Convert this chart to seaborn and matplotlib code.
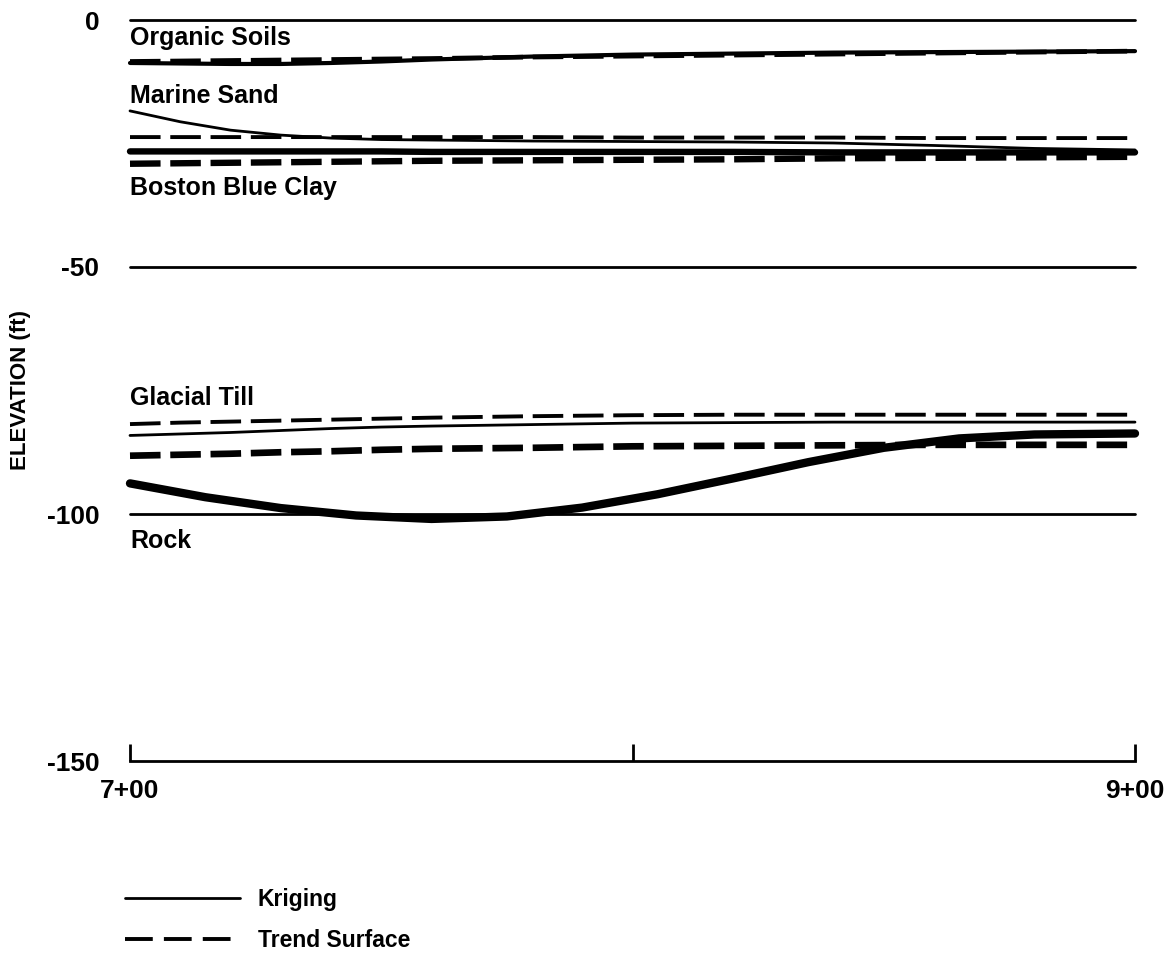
import matplotlib
matplotlib.use("Agg")
import matplotlib.pyplot as plt
from matplotlib.lines import Line2D
import pandas as pd
import seaborn as sns

# Stations along the section (ft), labelled as 7+00 ... 9+00
stations = [700, 710, 720, 730, 740, 750, 760, 780, 800, 820, 840, 860, 880, 900]
rock_stations = [700, 715, 730, 745, 760, 775, 790, 805, 820, 835, 850, 865, 880, 900]

# Boundary elevations (ft) estimated by kriging and by trend surface
organic_krig = [-8.7, -8.8, -8.9, -8.9, -8.7, -8.4, -8.0, -7.4, -7.0, -6.8, -6.6, -6.5, -6.4, -6.3]
organic_trend = [-8.4, -8.3, -8.2, -8.1, -8.0, -7.9, -7.8, -7.5, -7.3, -7.1, -6.9, -6.7, -6.5, -6.3]
marine_krig = [-18.4, -20.6, -22.3, -23.3, -23.9, -24.2, -24.3, -24.5, -24.6, -24.7, -24.9, -25.4, -26.0, -26.3]
marine_trend = [-23.7, -23.7, -23.7, -23.7, -23.7, -23.7, -23.7, -23.7, -23.8, -23.8, -23.8, -23.9, -23.9, -23.9]
clay_krig = [-26.6, -26.6, -26.6, -26.6, -26.6, -26.6, -26.7, -26.7, -26.7, -26.7, -26.8, -26.8, -26.8, -26.8]
clay_trend = [-29.1, -29.0, -28.9, -28.8, -28.7, -28.6, -28.5, -28.4, -28.3, -28.2, -28.0, -27.9, -27.8, -27.7]
till_krig = [-84.1, -83.8, -83.5, -83.1, -82.7, -82.4, -82.2, -81.9, -81.6, -81.5, -81.4, -81.4, -81.4, -81.4]
till_trend = [-81.8, -81.5, -81.3, -81.1, -80.9, -80.7, -80.5, -80.2, -80.0, -79.9, -79.9, -79.9, -79.9, -79.9]
rock_krig = [-93.8, -96.6, -98.8, -100.3, -101.0, -100.5, -98.7, -96.0, -92.8, -89.5, -86.6, -84.7, -83.9, -83.7]
rock_trend = [-88.2, -88.0, -87.8, -87.5, -87.3, -87.0, -86.8, -86.6, -86.3, -86.2, -86.1, -86.0, -86.0, -86.0]

# Stratum names and the elevation of each name's baseline
layer_names = ["Organic Soils", "Marine Sand", "Boston Blue Clay", "Glacial Till", "Rock"]
layer_label_elev = [-5.1, -16.8, -35.5, -78.0, -106.8]

y_ticks = [0, -50, -100, -150]
y_tick_labels = ["0", "-50", "-100", "-150"]
x_ticks = [700, 800, 900]
x_tick_labels = ["7+00", "", "9+00"]
legend_labels = ["Kriging", "Trend Surface"]

series = {
    "organic_krig": (stations, organic_krig), "organic_trend": (stations, organic_trend),
    "marine_krig": (stations, marine_krig), "marine_trend": (stations, marine_trend),
    "clay_krig": (stations, clay_krig), "clay_trend": (stations, clay_trend),
    "till_krig": (stations, till_krig), "till_trend": (stations, till_trend),
    "rock_krig": (rock_stations, rock_krig), "rock_trend": (stations, rock_trend),
}
df = pd.concat(
    [pd.DataFrame({"station": st, "elevation": vals, "series": name})
     for name, (st, vals) in series.items()],
    ignore_index=True,
)

DASH = (0, (22, 7))
line_styles = {
    "organic_krig": dict(lw=3.0, ls="-"),
    "organic_trend": dict(lw=3.4, ls=DASH),
    "marine_krig": dict(lw=2.0, ls="-"),
    "marine_trend": dict(lw=2.8, ls=DASH),
    "clay_krig": dict(lw=4.6, ls="-"),
    "clay_trend": dict(lw=4.6, ls=DASH),
    "till_krig": dict(lw=2.0, ls="-"),
    "till_trend": dict(lw=2.8, ls=DASH),
    "rock_krig": dict(lw=6.0, ls="-"),
    "rock_trend": dict(lw=4.8, ls=DASH),
}

sns.set_theme(style="white", rc={
    "axes.edgecolor": "black", "text.color": "black", "axes.labelcolor": "black",
    "xtick.color": "black", "ytick.color": "black",
})
plt.rcParams["font.family"] = ["Liberation Sans", "DejaVu Sans"]
plt.rcParams["font.weight"] = "bold"
plt.rcParams["axes.labelweight"] = "bold"
plt.rcParams["lines.scale_dashes"] = False

fig = plt.figure(figsize=(11.74, 9.56), dpi=100)
ax = fig.add_axes([130 / 1174, 1 - 761 / 956, 1005 / 1174, 741 / 956])

# Reference elevations drawn across the section
for level in y_ticks[:-1]:
    ax.axhline(level, color="black", lw=2.0, clip_on=False, zorder=1)

for name, style in line_styles.items():
    sns.lineplot(data=df[df["series"] == name], x="station", y="elevation",
                 color="black", linewidth=style["lw"], linestyle=style["ls"],
                 solid_capstyle="round", solid_joinstyle="round", dash_capstyle="butt",
                 ax=ax, legend=False, clip_on=False, zorder=3)

for name, elev in zip(layer_names, layer_label_elev):
    ax.text(700, elev, name, ha="left", va="baseline", fontsize=18, fontweight="bold")

ax.set_xlim(700, 900)
ax.set_ylim(-150, 0)
for side in ("left", "top", "right"):
    ax.spines[side].set_visible(False)
ax.spines["bottom"].set_linewidth(2.0)

ax.set_xticks(x_ticks)
ax.set_xticklabels(x_tick_labels)
ax.set_yticks(y_ticks)
ax.set_yticklabels(y_tick_labels)
ax.tick_params(axis="x", bottom=True, direction="in", length=12, width=2,
               pad=13, labelsize=19)
ax.tick_params(axis="y", left=False, length=0, pad=22, labelsize=19)
ax.set_xlabel("")
ax.set_ylabel("ELEVATION (ft)", fontsize=16, fontweight="bold")
ax.yaxis.set_label_coords(-0.099, 0.5)

handles = [
    Line2D([], [], color="black", lw=2.0),
    Line2D([], [], color="black", lw=2.8, linestyle=(0, (20, 8))),
]
ax.legend(handles, legend_labels, loc="center left",
          bbox_to_anchor=(125 / 1174, 1 - 920 / 956), bbox_transform=fig.transFigure,
          frameon=False, prop={"size": 16.5, "weight": "bold"},
          handlelength=5.0, handletextpad=0.8, labelspacing=0.75,
          borderpad=0, borderaxespad=0)

fig.savefig("out.png", dpi=100, facecolor="white")
